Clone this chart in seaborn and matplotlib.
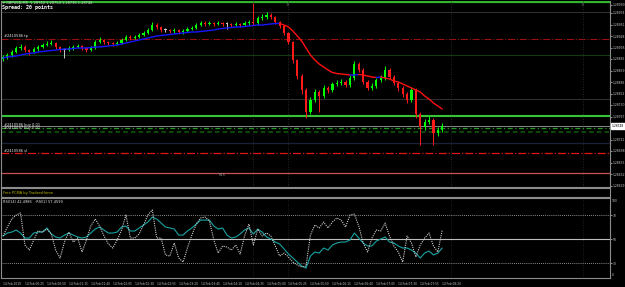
import numpy as np
import pandas as pd
import matplotlib
matplotlib.use("Agg")
import matplotlib.pyplot as plt
import matplotlib.transforms as mtransforms
import seaborn as sns

# ---------------- data ----------------
symbol_info = "\u25be GBPUSD,M5  1.28740 1.28754 1.28736 1.28748"
spread_text = "Spread: 20 points"
indicator_name = "Free PCMA by TradersHome"
rsi_label = "RSI(14) 42.4986   \u00b7RSI(2) 57.4599"

first_open = 1.28882
closes = [1.28886, 1.28890, 1.28896, 1.28904, 1.28906, 1.28900, 1.28896, 1.28902, 1.28906, 1.28910,
          1.28912, 1.28914, 1.28906, 1.28900, 1.28900, 1.28904, 1.28906, 1.28908, 1.28904, 1.28900,
          1.28904, 1.28916, 1.28920, 1.28916, 1.28914, 1.28912, 1.28914, 1.28920, 1.28926, 1.28924,
          1.28926, 1.28930, 1.28934, 1.28940, 1.28950, 1.28946, 1.28940, 1.28940, 1.28938, 1.28940,
          1.28936, 1.28938, 1.28942, 1.28944, 1.28950, 1.28954, 1.28952, 1.28954, 1.28952, 1.28954,
          1.28952, 1.28952, 1.28950, 1.28952, 1.28950, 1.28954, 1.28956, 1.28954, 1.28964, 1.28966,
          1.28970, 1.28966, 1.28956, 1.28948, 1.28934, 1.28916, 1.28880, 1.28848, 1.28820, 1.28776,
          1.28800, 1.28816, 1.28808, 1.28824, 1.28820, 1.28832, 1.28834, 1.28836, 1.28830, 1.28844,
          1.28872, 1.28860, 1.28836, 1.28824, 1.28828, 1.28840, 1.28844, 1.28860, 1.28846, 1.28834,
          1.28824, 1.28812, 1.28800, 1.28820, 1.28772, 1.28746, 1.28756, 1.28760, 1.28734, 1.28740,
          1.28748]
highs = [1.28890, 1.28894, 1.28900, 1.28908, 1.28912, 1.28910, 1.28902, 1.28906, 1.28910, 1.28914,
         1.28918, 1.28920, 1.28916, 1.28908, 1.28904, 1.28908, 1.28910, 1.28912, 1.28910, 1.28906,
         1.28908, 1.28920, 1.28926, 1.28922, 1.28918, 1.28916, 1.28918, 1.28924, 1.28930, 1.28930,
         1.28930, 1.28934, 1.28938, 1.28944, 1.28956, 1.28954, 1.28948, 1.28944, 1.28942, 1.28944,
         1.28942, 1.28942, 1.28946, 1.28948, 1.28954, 1.28958, 1.28958, 1.28958, 1.28956, 1.28958,
         1.28956, 1.28956, 1.28954, 1.28956, 1.28954, 1.28958, 1.28960, 1.28994, 1.28968, 1.28972,
         1.28976, 1.28974, 1.28968, 1.28958, 1.28950, 1.28936, 1.28918, 1.28882, 1.28852, 1.28824,
         1.28806, 1.28822, 1.28820, 1.28830, 1.28828, 1.28836, 1.28840, 1.28842, 1.28840, 1.28850,
         1.28878, 1.28876, 1.28864, 1.28840, 1.28834, 1.28844, 1.28850, 1.28868, 1.28864, 1.28850,
         1.28838, 1.28828, 1.28816, 1.28826, 1.28824, 1.28776, 1.28762, 1.28768, 1.28764, 1.28746,
         1.28754]
lows = [1.28878, 1.28882, 1.28886, 1.28894, 1.28900, 1.28896, 1.28890, 1.28894, 1.28898, 1.28904,
        1.28908, 1.28910, 1.28902, 1.28896, 1.28884, 1.28898, 1.28900, 1.28904, 1.28900, 1.28896,
        1.28898, 1.28902, 1.28914, 1.28912, 1.28910, 1.28908, 1.28910, 1.28912, 1.28918, 1.28920,
        1.28922, 1.28924, 1.28928, 1.28932, 1.28938, 1.28942, 1.28936, 1.28936, 1.28934, 1.28934,
        1.28932, 1.28932, 1.28936, 1.28940, 1.28942, 1.28948, 1.28948, 1.28950, 1.28948, 1.28950,
        1.28948, 1.28942, 1.28946, 1.28948, 1.28946, 1.28948, 1.28950, 1.28950, 1.28950, 1.28960,
        1.28962, 1.28962, 1.28952, 1.28944, 1.28930, 1.28912, 1.28874, 1.28842, 1.28812, 1.28764,
        1.28772, 1.28796, 1.28776, 1.28804, 1.28814, 1.28816, 1.28828, 1.28830, 1.28826, 1.28826,
        1.28840, 1.28856, 1.28832, 1.28820, 1.28820, 1.28824, 1.28836, 1.28840, 1.28842, 1.28830,
        1.28818, 1.28806, 1.28794, 1.28796, 1.28764, 1.28710, 1.28740, 1.28752, 1.28710, 1.28728,
        1.28736]
ma_values = [1.28884, 1.28886, 1.28887, 1.28888, 1.28890, 1.28892, 1.28893, 1.28894, 1.28896, 1.28897,
             1.28898, 1.28899, 1.28900, 1.28901, 1.28902, 1.28902, 1.28903, 1.28904, 1.28904, 1.28904,
             1.28905, 1.28906, 1.28906, 1.28907, 1.28908, 1.28909, 1.28910, 1.28912, 1.28914, 1.28916,
             1.28918, 1.28920, 1.28922, 1.28924, 1.28926, 1.28928, 1.28929, 1.28930, 1.28931, 1.28932,
             1.28933, 1.28934, 1.28935, 1.28936, 1.28936, 1.28937, 1.28938, 1.28939, 1.28940, 1.28942,
             1.28943, 1.28944, 1.28945, 1.28946, 1.28946, 1.28947, 1.28948, 1.28949, 1.28950, 1.28950,
             1.28951, 1.28952, 1.28953, 1.28953, 1.28950, 1.28946, 1.28938, 1.28928, 1.28918, 1.28904,
             1.28890, 1.28880, 1.28872, 1.28866, 1.28860, 1.28855, 1.28853, 1.28852, 1.28851, 1.28850,
             1.28850, 1.28851, 1.28850, 1.28848, 1.28846, 1.28845, 1.28846, 1.28844, 1.28842, 1.28838,
             1.28836, 1.28832, 1.28828, 1.28824, 1.28820, 1.28816, 1.28808, 1.28802, 1.28794, 1.28788,
             1.28782]
rsi_slow = [52.5, 55.0, 55.8, 57.5, 55.0, 50.8, 50.8, 55.0, 55.8, 55.8,
            59.2, 54.2, 51.7, 50.8, 53.3, 55.0, 53.3, 51.7, 50.8, 51.7,
            55.0, 58.3, 60.0, 57.5, 55.0, 55.0, 55.8, 60.0, 60.8, 56.7,
            56.7, 59.2, 61.7, 64.2, 68.3, 66.7, 63.3, 60.0, 59.2, 58.3,
            53.3, 53.3, 56.7, 59.2, 62.5, 65.8, 65.8, 65.8, 60.8, 58.3,
            59.2, 53.3, 50.8, 51.7, 54.2, 57.5, 59.2, 54.2, 58.3, 55.8,
            51.7, 50.0, 47.5, 45.8, 41.7, 37.5, 34.2, 30.8, 27.5, 25.8,
            35.8, 39.2, 38.3, 42.5, 40.8, 45.0, 46.7, 47.5, 47.5, 49.2,
            55.0, 50.8, 46.7, 44.2, 44.2, 48.3, 50.0, 51.7, 47.5, 46.7,
            44.2, 42.5, 42.5, 40.8, 38.3, 34.2, 38.3, 40.0, 36.7, 38.3,
            42.5]
rsi_fast = [52.5, 60.0, 66.7, 70.0, 71.7, 45.0, 40.8, 49.2, 56.7, 55.8,
            58.3, 54.2, 40.8, 34.2, 47.5, 55.8, 47.5, 50.8, 39.2, 49.2,
            60.8, 66.7, 60.8, 52.5, 45.8, 42.5, 49.2, 57.5, 70.0, 50.8,
            50.8, 54.2, 61.7, 70.0, 74.2, 50.8, 50.8, 36.7, 35.8, 46.7,
            34.2, 30.8, 42.5, 53.3, 62.5, 67.5, 68.3, 65.0, 49.2, 38.3,
            44.2, 43.3, 40.8, 45.0, 37.5, 52.5, 62.5, 45.0, 58.3, 52.5,
            55.0, 52.5, 44.2, 35.8, 38.3, 35.0, 30.8, 28.3, 26.7, 27.5,
            53.3, 61.7, 59.2, 64.2, 59.2, 64.2, 67.5, 65.8, 60.0, 70.0,
            70.8, 60.8, 46.7, 39.2, 50.8, 57.5, 56.7, 63.3, 52.5, 44.2,
            39.2, 30.8, 52.5, 46.7, 35.0, 45.0, 50.8, 55.0, 44.2, 39.2,
            57.5]
time_labels = ["14 Feb 2019", "14 Feb 00:25", "14 Feb 00:50", "14 Feb 01:15", "14 Feb 01:40",
               "14 Feb 02:05", "14 Feb 02:30", "14 Feb 02:55", "14 Feb 03:20", "14 Feb 03:45",
               "14 Feb 04:10", "14 Feb 04:35", "14 Feb 05:00", "14 Feb 05:25", "14 Feb 05:50",
               "14 Feb 06:15", "14 Feb 06:40", "14 Feb 07:05", "14 Feb 07:30", "14 Feb 07:55",
               "14 Feb 08:20"]
time_label_bars = list(range(0, 101, 5))
price_ticks = [1.28990, 1.28974, 1.28951, 1.28928, 1.28905, 1.28882, 1.28859, 1.28836,
               1.28813, 1.28790, 1.28767, 1.28721, 1.28698, 1.28675, 1.28652, 1.28629]
current_price = 1.28748
rsi_levels = [70, 50, 30]

# horizontal level lines of the main window: price, colour, style, width
level_prices = [1.28996, 1.28976, 1.28922, 1.28890, 1.28802, 1.28768, 1.28748,
                1.28744, 1.28736, 1.28714, 1.28694, 1.28654]
level_colors = ["#2fb52f", "#2e2e2e", "#9a1010", "#123a12", "#2e2e2e", "#35c435", "#8a8a8a",
                "#1f9a1f", "#0f5c0f", "#1a2238", "#e01515", "#cf5050"]
level_styles = ["-", "-", "-.", "-", "-", "-", "-", (0, (4, 2, 1, 2)), (0, (3, 2)), "-", "-.", "-"]
level_widths = [1.6, 0.8, 0.8, 0.8, 0.8, 1.5, 0.7, 0.9, 1.1, 0.9, 0.9, 0.9]

order_labels = [("#2410586 tp", 1.28928), ("#2410586 buy 0.01", 1.28751),
                ("#2410587 buy 0.01", 1.28743), ("#2410586 sl", 1.28698)]
separator_bars = [57.0, 64.8, 102.0, 132.0]

# ---------------- drawing ----------------
sns.set_theme(style="dark", rc={"axes.facecolor": "black", "figure.facecolor": "black",
                                "axes.edgecolor": "#8c8c8c", "grid.color": "black"})
plt.rcParams["font.family"] = ["DejaVu Sans"]

W, H = 625, 287
fig = plt.figure(figsize=(W / 100, H / 100), dpi=100, facecolor="black")
ax = fig.add_axes([1 / W, 1 - 187 / H, 609 / W, 186 / H])
axp = fig.add_axes([1 / W, 1 - 197 / H, 609 / W, 9 / H])
axr = fig.add_axes([1 / W, 1 - 278 / H, 609 / W, 80 / H])

n = len(closes)
idx = np.arange(n)
opens = [first_open] + closes[:-1]
xlim = (-0.45, 138.2)

for a in (ax, axp, axr):
    a.set_facecolor("black")
    a.set_xlim(*xlim)
    a.grid(False)
    for s in a.spines.values():
        s.set_color("#8c8c8c")
        s.set_linewidth(0.8)

# level lines
for p, c, ls, lw in zip(level_prices, level_colors, level_styles, level_widths):
    ax.axhline(p, color=c, linestyle=ls, linewidth=lw, zorder=1)
for b in separator_bars:
    ax.axvline(b, color="#333333", linestyle=(0, (1, 2)), linewidth=0.6, zorder=1)
    axr.axvline(b, color="#2a2a2a", linestyle=(0, (1, 2)), linewidth=0.6, zorder=1)

# candles
o = np.array(opens); c = np.array(closes)
hi = np.array(highs); lo = np.array(lows)
cols = np.where(c > o, "#00ff00", np.where(c < o, "#ff1a1a", "#c8c8c8"))
ax.vlines(idx, lo, hi, colors=cols, linewidth=0.7, zorder=3)
body_bottom = np.minimum(o, c)
body_h = np.maximum(np.abs(c - o), 0.000012)
ax.bar(idx, body_h, bottom=body_bottom, width=0.5, color=cols, linewidth=0, zorder=4)

# moving average coloured by slope
ma = np.array(ma_values)
up = np.diff(ma) >= 0
start = 0
for i in range(1, len(up) + 1):
    if i == len(up) or up[i] != up[start]:
        seg = slice(start, i + 1)
        ax.plot(idx[seg], ma[seg], color="#1515ff" if up[start] else "#ff1010",
                linewidth=1.0, zorder=5, solid_capstyle="round")
        start = i

ax.set_ylim(1.28626, 1.28998)
ax.yaxis.tick_right()
ax.set_yticks(price_ticks)
ax.set_yticklabels([f"{v:.5f}" for v in price_ticks])
ax.tick_params(axis="y", colors="#c8c8c8", labelsize=2.2, length=1.2, width=0.5, pad=0.6)
ax.set_xticks([])
ax.spines["top"].set_visible(False)

ytr = mtransforms.blended_transform_factory(ax.transAxes, ax.transData)
ax.text(1.003, current_price, f"{current_price:.5f}", transform=ytr, fontsize=2.2,
        color="black", va="center", ha="left",
        bbox=dict(boxstyle="square,pad=0.2", fc="white", ec="white"))
for txt, p in order_labels:
    ax.text(0.005, p, txt, transform=ytr, fontsize=2.6, color="#e8e8e8",
            va="center", ha="left", zorder=6)
ax.text(64.8, 1.28990, "12", fontsize=2.4, color="#707070", ha="center", va="center")
ax.text(132.0, 1.28990, "12", fontsize=2.4, color="#707070", ha="center", va="center")
ax.text(49.8, 1.28650, "R1S", fontsize=2.4, color="#9a9a9a", ha="center", va="center")

# header texts
fig.text(3 / W, 1 - 3 / H, symbol_info, fontsize=2.6, color="#d8d8d8", va="center", ha="left")
fig.text(2 / W, 1 - 7.5 / H, spread_text, fontsize=3.6, color="white", va="center",
         ha="left", family="DejaVu Sans Mono", weight="bold")

# PCMA window
axp.set_xticks([]); axp.set_yticks([])
axp.text(0.004, 0.45, indicator_name, transform=axp.transAxes, fontsize=2.6,
         color="#b8b800", va="center", ha="left")

# RSI window
axr.set_ylim(17.5, 84.2)
for lv in rsi_levels:
    if lv == 50:
        axr.axhline(lv, color="#bdbdbd", linewidth=0.8, zorder=1)
    else:
        axr.axhline(lv, color="#bdbdbd", linestyle=(0, (1, 1.5)), linewidth=0.6, zorder=1)
df = pd.DataFrame({"bar": idx, "rsi_slow": rsi_slow, "rsi_fast": rsi_fast})
sns.lineplot(data=df, x="bar", y="rsi_slow", ax=axr, color="#17a3a3", linewidth=0.8, zorder=3)
sns.lineplot(data=df, x="bar", y="rsi_fast", ax=axr, color="#cfcfcf", linewidth=0.8,
             linestyle=(0, (1, 1)), zorder=4)
axr.set_xlabel(""); axr.set_ylabel("")
axr.yaxis.tick_right()
axr.set_yticks(rsi_levels)
axr.set_yticklabels([str(v) for v in rsi_levels])
axr.tick_params(axis="y", colors="#c8c8c8", labelsize=2.2, length=1.2, width=0.5, pad=0.6)
axr.text(1.003, 0.99, "100", transform=axr.transAxes, fontsize=2.2, color="#c8c8c8", va="top")
axr.text(1.003, 0.01, "0", transform=axr.transAxes, fontsize=2.2, color="#c8c8c8", va="bottom")
axr.set_xticks(time_label_bars)
axr.set_xticklabels(time_labels, ha="left")
axr.tick_params(axis="x", colors="#c8c8c8", labelsize=2.1, length=1.5, width=0.5, pad=1.2)
axr.text(0.003, 0.955, rsi_label, transform=axr.transAxes, fontsize=2.5, color="#e8e8e8",
         va="center", ha="left")

fig.savefig("out.png", dpi=100, facecolor="black")
